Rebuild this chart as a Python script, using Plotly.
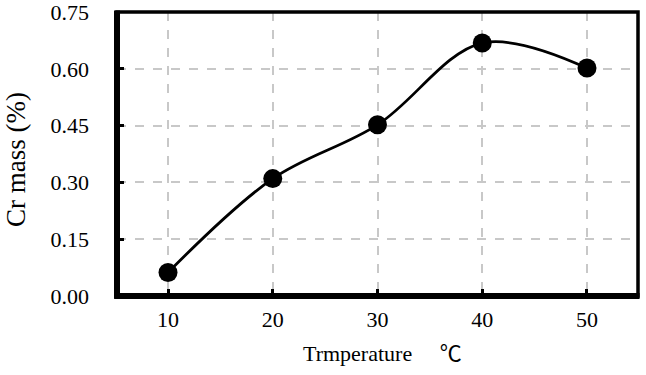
import plotly.graph_objects as go

temperature = [10, 20, 30, 40, 50]
cr_mass = [0.062, 0.31, 0.452, 0.668, 0.602]
y_ticks = [0.0, 0.15, 0.30, 0.45, 0.60, 0.75]
y_tick_labels = ["0.00", "0.15", "0.30", "0.45", "0.60", "0.75"]

font_family = "'Liberation Serif', 'Times New Roman', 'Noto Sans CJK SC', serif"

W, H = 646, 375
L, R, T, B = 117, 8, 12, 79
PW, PH = W - L - R, H - T - B

fig = go.Figure()
fig.add_trace(go.Scatter(
    x=temperature, y=cr_mass, mode="lines+markers",
    line=dict(color="black", width=2.8, shape="spline", smoothing=1.0),
    marker=dict(color="black", size=19),
    showlegend=False, cliponaxis=False, hoverinfo="skip",
))

tick_font = dict(family=font_family, size=22, color="black")

fig.update_layout(
    width=W, height=H,
    margin=dict(l=L, r=R, t=T, b=B),
    paper_bgcolor="white", plot_bgcolor="white",
    font=dict(family=font_family, size=22, color="black"),
    xaxis=dict(
        range=[5.13, 54.87], tickvals=temperature, ticktext=[str(t) for t in temperature],
        showgrid=True, gridcolor="#c8c8c8", griddash="dash", gridwidth=1.5,
        showline=False, tickfont=tick_font,
        ticks="inside", ticklen=7, tickwidth=3, tickcolor="black",
        ticklabelstandoff=8, zeroline=False, automargin=False,
        ticklabeloverflow="allow",
    ),
    yaxis=dict(
        range=[0, 0.75], tickvals=y_ticks, ticktext=y_tick_labels,
        showgrid=True, gridcolor="#c8c8c8", griddash="dash", gridwidth=1.5,
        showline=False, tickfont=tick_font,
        ticks="inside", ticklen=7, tickwidth=3, tickcolor="black",
        ticklabelstandoff=27, zeroline=False, automargin=False,
        ticklabeloverflow="allow",
    ),
    annotations=[
        dict(text="Cr mass (%)", xref="paper", yref="paper", x=(16 - L) / PW, y=1 - (160 - T) / PH,
             xanchor="center", yanchor="middle", textangle=-90, showarrow=False,
             font=dict(family=font_family, size=27, color="black")),
        dict(text="Trmperature \u2003℃", xref="paper", yref="paper", x=(382.5 - L) / PW,
             y=-(353 - (H - B)) / PH,
             xanchor="center", yanchor="middle", showarrow=False,
             font=dict(family=font_family, size=22, color="black")),
    ],
)

# frame: thin top/right, thick left/bottom
fig.add_shape(type="rect", xref="paper", yref="paper", x0=0, x1=1, y0=0, y1=1,
              line=dict(color="black", width=3.5), layer="above")
fig.add_shape(type="line", xref="paper", yref="paper", x0=0, x1=0, y0=-0.01, y1=1.005,
              line=dict(color="black", width=6), layer="above")
fig.add_shape(type="line", xref="paper", yref="paper", x0=-0.005, x1=1.003, y0=0, y1=0,
              line=dict(color="black", width=6), layer="above")

fig.write_html(
    "out.html",
    config={"displayModeBar": False},
    post_script="document.body.style.margin='0';document.body.style.padding='0';",
)
